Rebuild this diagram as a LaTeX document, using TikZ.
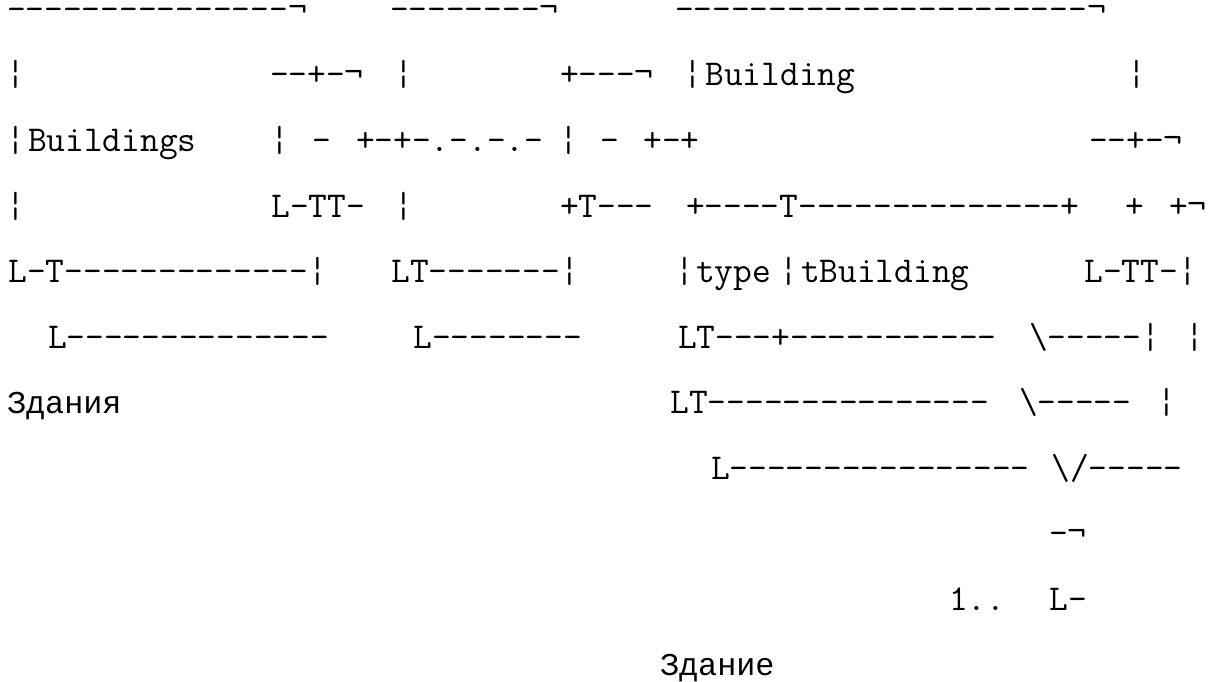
\documentclass[tikz,border=0pt]{standalone}
\usepackage{fontspec}
\newfontfamily\cyrmono{Liberation Mono}
\begin{document}
\begin{tikzpicture}[x=1pt,y=-1pt,
  tok/.style={anchor=base west, inner sep=0pt, outer sep=0pt,
    font=\ttfamily\fontsize{36.38}{40}\selectfont, text=black},
  cyr/.style={tok, font=\cyrmono\fontsize{31.83}{36}\selectfont},
  low/.style={text height=8pt}]
\useasboundingbox (0,0) rectangle (1210,682);
\fill[white] (0,0) rectangle (1210,682);
% line 1
\node[tok,low] (a1) at (7,21) {---------------¬};
\node[tok,low] (a2) at (390,21) {--------¬};
\node[tok,low] (a3) at (675,21) {----------------------¬};
% line 2
\node[tok] (b1) at (6.5,86) {¦};
\node[tok] (b2) at (270,86) {--+-¬};
\node[tok] (b3) at (394.5,86) {¦};
\node[tok] (b4) at (560,86) {+---¬};
\node[tok] (b5) at (683.5,86) {¦};
\node[tok] (b6) at (705.5,86) {Building};
\node[tok] (b7) at (1127.5,86) {¦};
% line 3
\node[tok] (c1) at (6.5,151.5) {¦};
\node[tok] (c2) at (28,151.5) {Buildings};
\node[tok] (c3) at (270.5,151.5) {¦};
\node[tok] (c4) at (312,151.5) {-};
\node[tok] (c5) at (356,151.5) {+-+-.-.-.-};
\node[tok] (c7) at (559.5,151.5) {¦};
\node[tok] (c8) at (600,151.5) {-};
\node[tok] (c9) at (643.5,151.5) {+-+};
\node[tok] (c10) at (1089,151.5) {--+-¬};
% line 4
\node[tok] (d1) at (6.5,217) {¦};
\node[tok] (d2) at (271.5,217) {L-TT-};
\node[tok] (d3) at (394.5,217) {¦};
\node[tok] (d4) at (560,217) {+T---};
\node[tok] (d5) at (686,217) {+----T--------------+};
\node[tok] (d6) at (1125.5,217) {+};
\node[tok] (d7) at (1169,217) {+¬};
% line 5
\node[tok] (e1) at (8.5,282.5) {L-T-------------¦};
\node[tok] (e2) at (391.5,282.5) {LT-------¦};
\node[tok] (e3) at (675.3,282.5) {¦};
\node[tok] (e4) at (696,282.5) {type};
\node[tok] (e5) at (779,282.5) {¦};
\node[tok] (e6) at (801,282.5) {tBuilding};
\node[tok] (e7) at (1084.5,282.5) {L-TT-¦};
% line 6
\node[tok] (f1) at (48,348) {L--------------};
\node[tok] (f2) at (413.5,348) {L--------};
\node[tok] (f3) at (678,348) {LT---+-----------};
\node[tok] (f4) at (1029,348) {\textbackslash-----¦};
\node[tok] (f5) at (1185.5,348) {¦};
% line 7
\node[cyr] (g1) at (7,413.5) {Здания};
\node[tok] (g2) at (670.5,413.5) {LT---------------};
\node[tok] (g3) at (1019,413.5) {\textbackslash-----};
\node[tok] (g4) at (1157.5,413.5) {¦};
% line 8
\node[tok] (h1) at (711,479) {L----------------};
\node[tok] (h2) at (1051.5,479) {\textbackslash/-----};
% line 9
\node[tok] (i1) at (1049,544.5) {-¬};
% line 10
\node[tok] (j1) at (949,610) {1..};
\node[tok] (j2) at (1049.5,610) {L-};
% line 11
\node[cyr] (k1) at (660,675.5) {Здание};
\end{tikzpicture}
\end{document}
